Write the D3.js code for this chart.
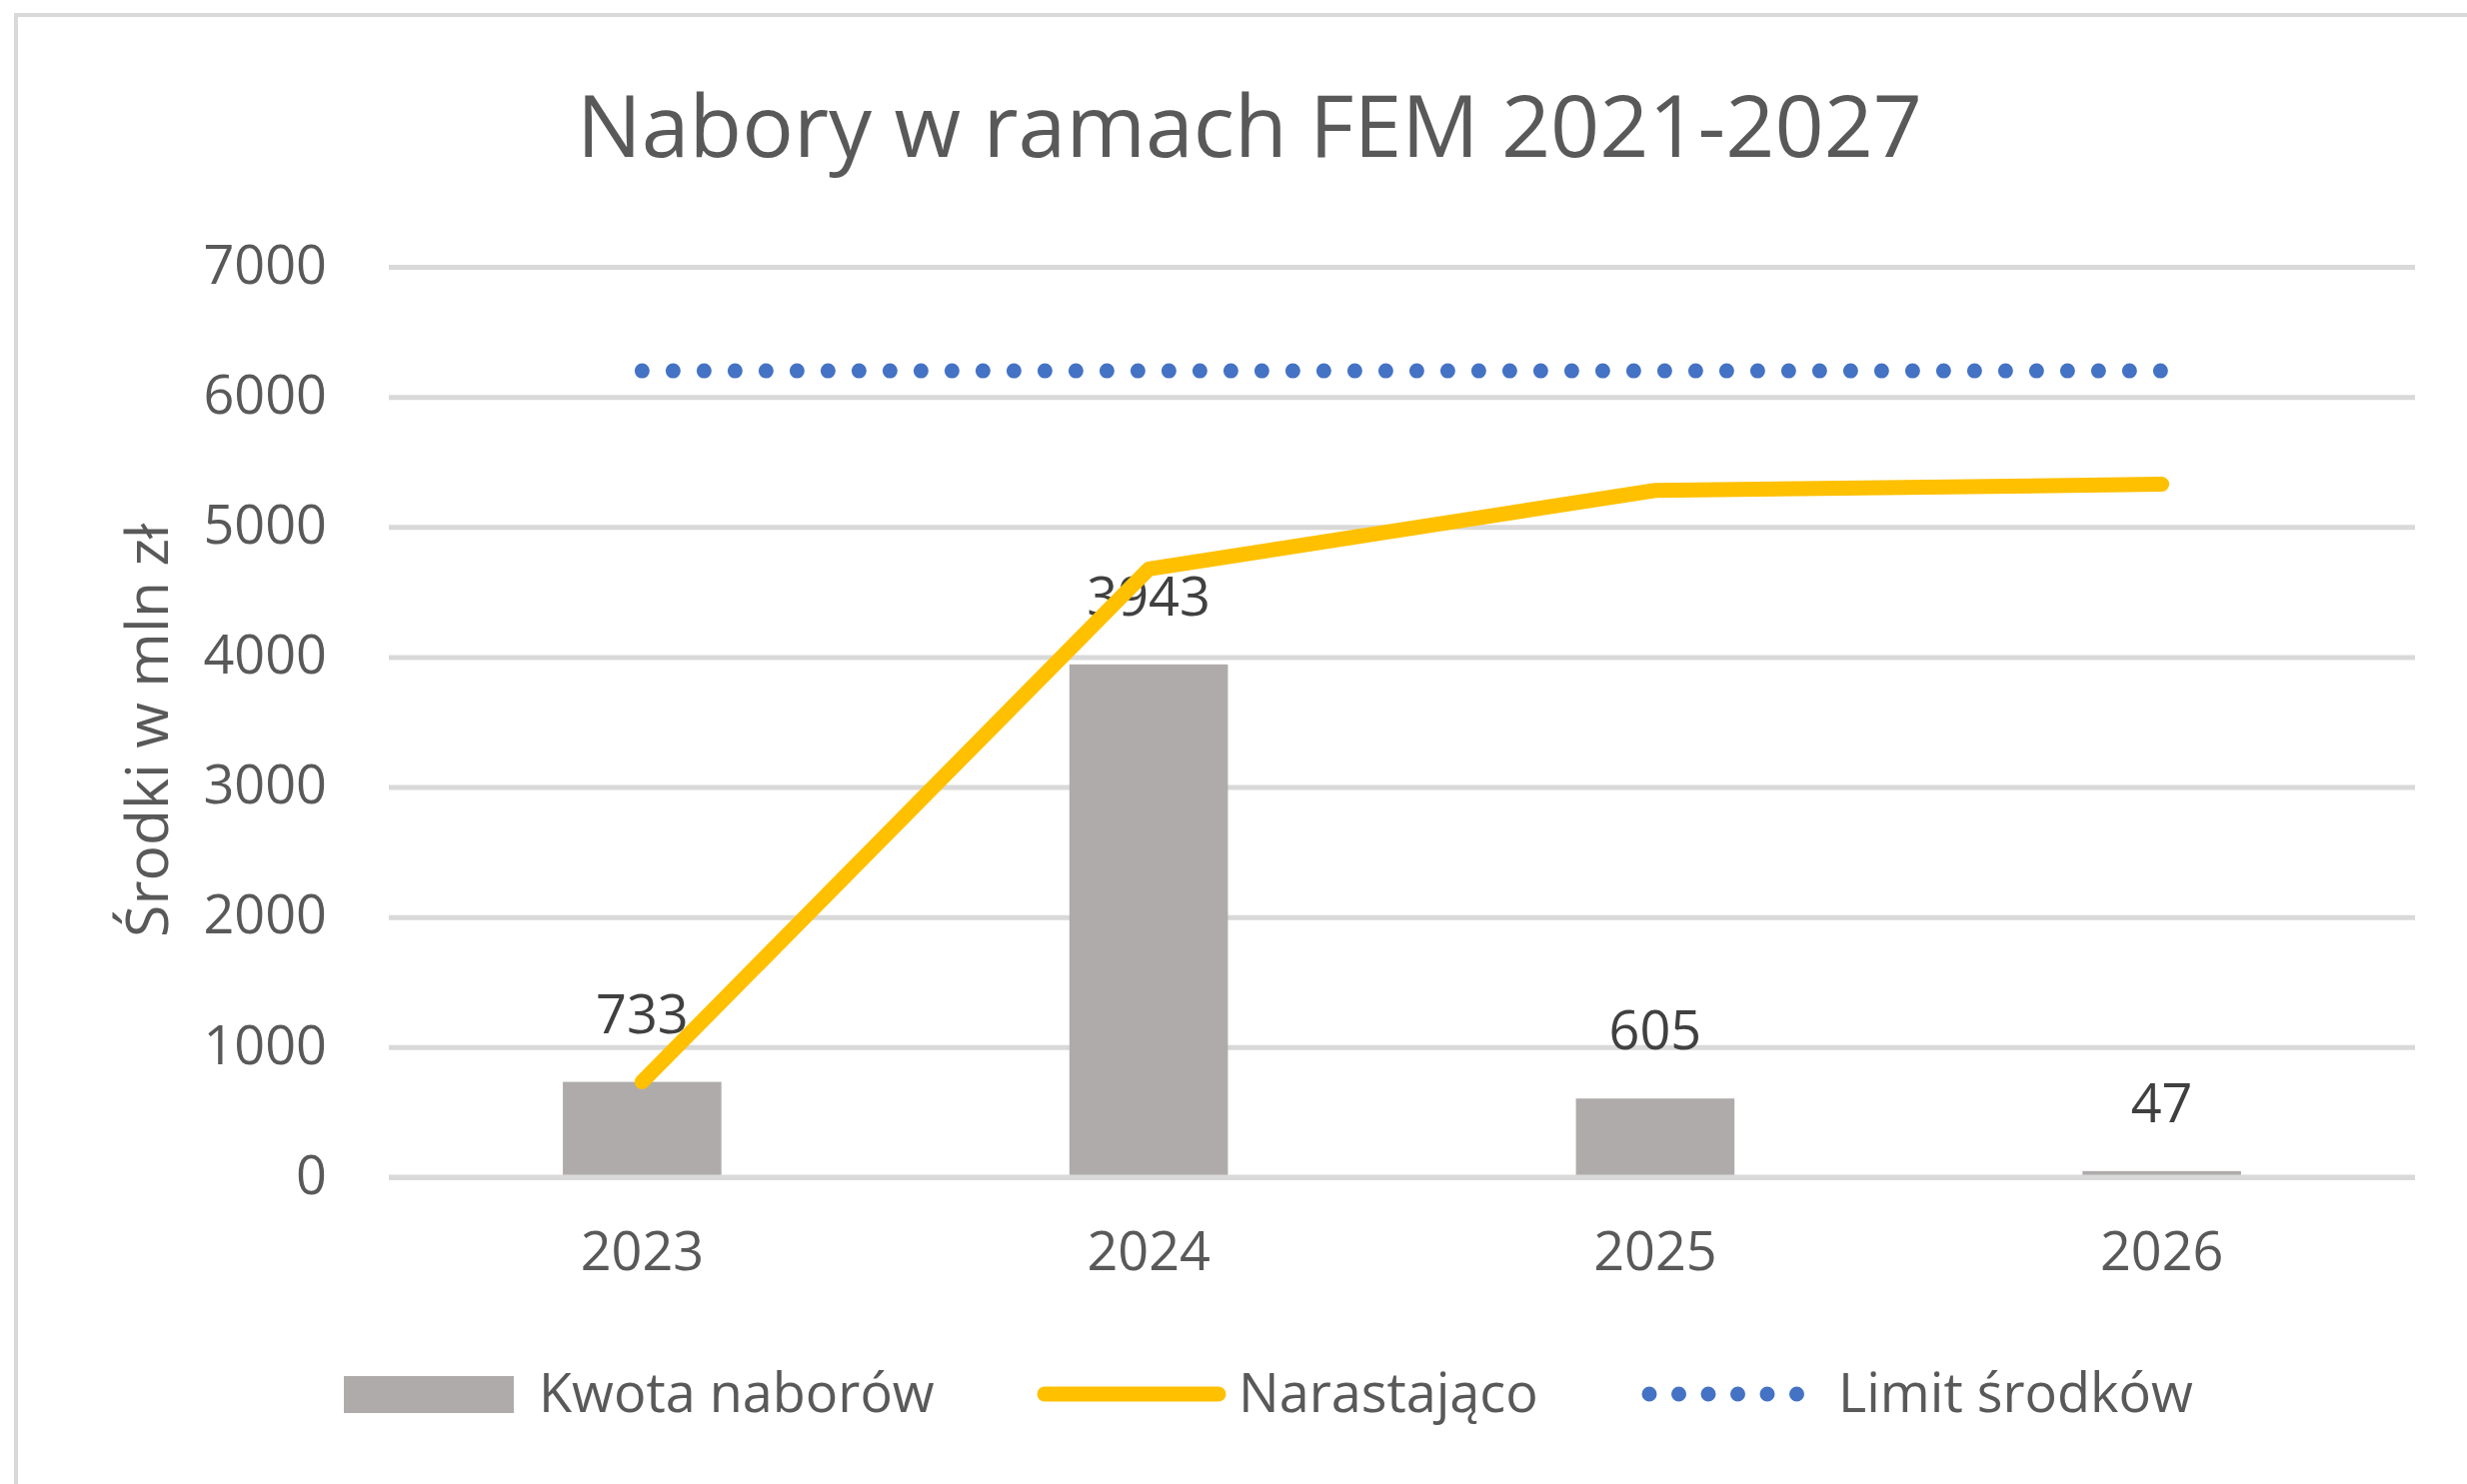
<!DOCTYPE html>
<html>
<head>
<meta charset="utf-8">
<script src="https://cdn.jsdelivr.net/npm/d3@7"></script>
<style>
  html, body { margin: 0; padding: 0; background: #fff; }
  svg { display: block; font-family: "Open Sans", sans-serif; }
</style>
</head>
<body>
<div id="chart_combo"></div>
<script>
const years = ["2023", "2024", "2025", "2026"];
const kwota = [733, 3943, 605, 47];
const narastajaco = [733, 4676, 5281, 5328];
const limit = [6200, 6200, 6200, 6200];
const yTicks = [0, 1000, 2000, 3000, 4000, 5000, 6000, 7000];
const legendLabels = ["Kwota naborów", "Narastająco", "Limit środków"];

(function combo() {
let width = 2468,
    height = 1485,
    margin = ({ top: 267, right: 52, bottom: 307, left: 389 });

const svg = d3.select("#chart_combo")
    .append("svg")
    .attr("width", width)
    .attr("height", height)
    .attr("viewBox", [0, 0, width, height]);

// chart frame
svg.append("rect")
    .attr("x", 16)
    .attr("y", 15)
    .attr("width", width + 20)
    .attr("height", height + 20)
    .attr("fill", "#fff")
    .attr("stroke", "#d9d9d9")
    .attr("stroke-width", 4);

svg.append("text")
    .text("Nabory w ramach FEM 2021-2027")
    .attr("x", 1250)
    .attr("y", 157)
    .attr("text-anchor", "middle")
    .attr("fill", "#595959")
    .style("font-size", "86px");

let x = d3.scaleBand()
    .domain(years)
    .range([margin.left, width - margin.right])
    .paddingInner(0.687)
    .paddingOuter(0.3435);

let y = d3.scaleLinear()
    .domain([0, 7000])
    .range([height - margin.bottom, margin.top]);

let cx = d => x(d) + x.bandwidth() / 2;

// gridlines + y labels
let yAxis = svg.append("g")
    .attr("transform", `translate(${margin.left},0)`)
    .call(d3.axisLeft(y).tickValues(yTicks).tickSize(-(width - margin.left - margin.right)).tickPadding(62).tickFormat(d => d));
yAxis.select(".domain").remove();
yAxis.selectAll(".tick line").attr("stroke", "#d9d9d9").attr("stroke-width", 5);
yAxis.selectAll(".tick text")
    .attr("fill", "#595959")
    .attr("dy", "0.3em")
    .style("font-size", "54px")
    .style("font-family", "'Open Sans', sans-serif");

// x labels
let xAxis = svg.append("g")
    .attr("transform", `translate(0,${y(0)})`)
    .call(d3.axisBottom(x).tickSize(0).tickPadding(60));
xAxis.select(".domain").remove();
xAxis.selectAll(".tick text")
    .attr("fill", "#595959")
    .attr("dy", "0.62em")
    .style("font-size", "54px")
    .style("font-family", "'Open Sans', sans-serif");

// bars
svg.append("g")
    .selectAll("rect")
    .data(years)
    .join("rect")
    .attr("x", d => x(d))
    .attr("y", (d, i) => y(kwota[i]))
    .attr("width", x.bandwidth())
    .attr("height", (d, i) => y(0) - y(kwota[i]))
    .attr("fill", "#afabab");

// axis line on top of bars
svg.append("line")
    .attr("x1", margin.left)
    .attr("x2", width - margin.right)
    .attr("y1", y(0))
    .attr("y2", y(0))
    .attr("stroke", "#d9d9d9")
    .attr("stroke-width", 5);

// data labels
svg.append("g")
    .selectAll("text")
    .data(years)
    .join("text")
    .text((d, i) => kwota[i])
    .attr("x", d => cx(d))
    .attr("y", (d, i) => y(kwota[i]) - 49)
    .attr("text-anchor", "middle")
    .attr("fill", "#404040")
    .style("font-size", "54px");

let line = d3.line()
    .x((d, i) => cx(years[i]))
    .y(d => y(d));

svg.append("path")
    .datum(limit)
    .attr("fill", "none")
    .attr("stroke", "#4472c4")
    .attr("stroke-width", 15)
    .attr("stroke-linecap", "round")
    .attr("stroke-dasharray", "0 31")
    .attr("d", line);

svg.append("path")
    .datum(narastajaco)
    .attr("fill", "none")
    .attr("stroke", "#ffc000")
    .attr("stroke-width", 15)
    .attr("stroke-linecap", "round")
    .attr("stroke-linejoin", "round")
    .attr("d", line);

// legend
let legend = svg.append("g");
let ly = 1395;

legend.append("rect")
    .attr("x", 344)
    .attr("y", ly - 18)
    .attr("width", 170)
    .attr("height", 37)
    .attr("fill", "#afabab");

legend.append("line")
    .attr("x1", 1045).attr("x2", 1219)
    .attr("y1", ly).attr("y2", ly)
    .attr("stroke", "#ffc000")
    .attr("stroke-width", 15)
    .attr("stroke-linecap", "round");

legend.append("line")
    .attr("x1", 1650).attr("x2", 1800)
    .attr("y1", ly).attr("y2", ly)
    .attr("stroke", "#4472c4")
    .attr("stroke-width", 15)
    .attr("stroke-linecap", "round")
    .attr("stroke-dasharray", "0 29.5");

legend.selectAll("text")
    .data(legendLabels)
    .join("text")
    .text(d => d)
    .attr("x", (d, i) => [539, 1239, 1839][i])
    .attr("y", 1413)
    .attr("fill", "#595959")
    .style("font-size", "54px");

// y axis title
svg.append("text")
    .text("Środki w mln zł")
    .attr("transform", "translate(168,731) rotate(-90)")
    .attr("text-anchor", "middle")
    .attr("fill", "#595959")
    .style("font-size", "59px");
})();
</script>
</body>
</html>
